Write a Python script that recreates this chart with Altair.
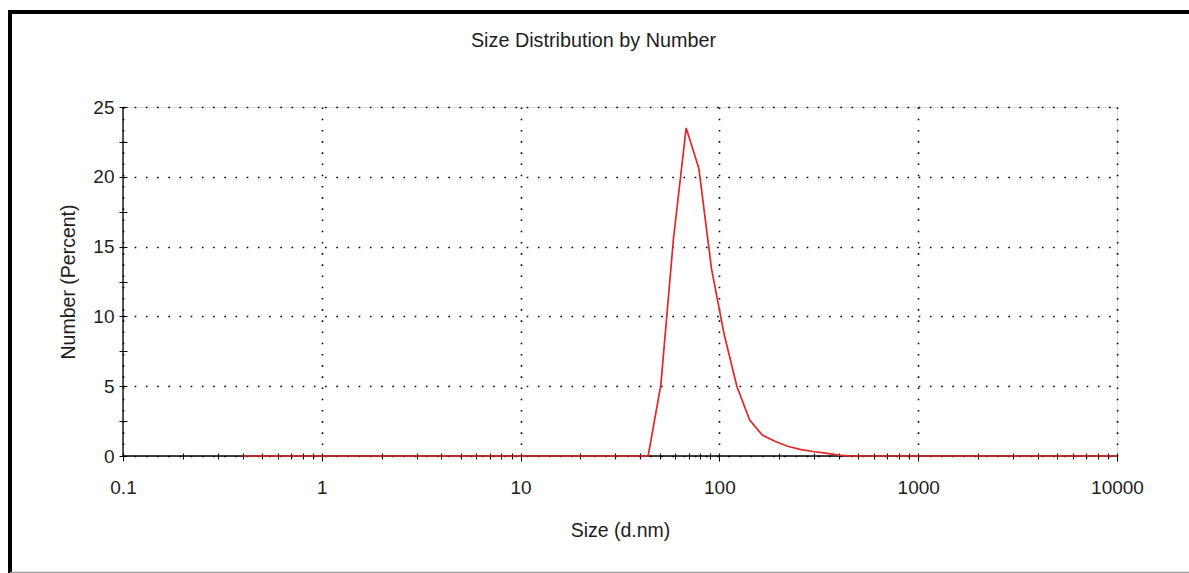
import altair as alt
import pandas as pd

# Size classes (d.nm) and number distribution (%)
sizes = [0.4, 0.4632, 0.5365, 0.6213, 0.7195, 0.8332, 0.9649, 1.117, 1.294, 1.499,
         1.736, 2.010, 2.328, 2.696, 3.122, 3.615, 4.187, 4.849, 5.615, 6.503,
         7.531, 8.721, 10.10, 11.70, 13.54, 15.69, 18.17, 21.04, 24.36, 28.21,
         32.67, 37.84, 43.82, 50.75, 58.77, 68.06, 78.82, 91.28, 105.7, 122.4,
         141.8, 164.2, 190.1, 220.2, 255.0, 295.3, 342.0, 396.1, 458.7, 531.2,
         615.1, 712.4, 825.0, 955.4, 1106, 1281, 1484, 1718, 1990, 2305,
         2669, 3091, 3580, 4145, 4801, 5560, 6439, 7456, 8635, 10000]
numbers = [0, 0, 0, 0, 0, 0, 0, 0, 0, 0,
           0, 0, 0, 0, 0, 0, 0, 0, 0, 0,
           0, 0, 0, 0, 0, 0, 0, 0, 0, 0,
           0, 0, 0, 5.1, 15.6, 23.5, 20.6, 13.4, 8.7, 5.0,
           2.6, 1.5, 1.05, 0.7, 0.48, 0.32, 0.2, 0.06, 0, 0,
           0, 0, 0, 0, 0, 0, 0, 0, 0, 0,
           0, 0, 0, 0, 0, 0, 0, 0, 0, 0]

x_ticks = [0.1, 0.2, 0.3, 0.4, 0.5, 0.6, 0.7, 0.8, 0.9,
           1, 2, 3, 4, 5, 6, 7, 8, 9,
           10, 20, 30, 40, 50, 60, 70, 80, 90,
           100, 200, 300, 400, 500, 600, 700, 800, 900,
           1000, 2000, 3000, 4000, 5000, 6000, 7000, 8000, 9000, 10000]
y_ticks = [0, 2.5, 5, 7.5, 10, 12.5, 15, 17.5, 20, 22.5, 25]

chart_title = "Size Distribution by Number"

df = pd.DataFrame({"size": sizes, "number": numbers})

FONT = "Liberation Sans"
TXT = "#1e1e1e"
decade = "abs(log(datum.value)/LN10 - round(log(datum.value)/LN10)) < 0.01"

x_axis = alt.Axis(
    values=x_ticks,
    labelExpr=f"({decade}) ? format(datum.value, '~g') : ''",
    domain=False,
    offset=-3,
    tickColor="black",
    tickWidth=1,
    tickSize={"condition": {"test": decade, "value": 8}, "value": 6},
    labelPadding=17,
    labelFont=FONT, labelFontSize=19, labelColor=TXT,
    labelFlush=False, labelOverlap=False,
    grid=True, gridColor="black", gridWidth=1.6, gridDash=[1.6, 9.6],
    gridOpacity={"condition": {"test": decade, "value": 1}, "value": 0},
    title="Size (d.nm)", titleFont=FONT, titleFontSize=19.5, titleFontWeight="normal",
    titleColor=TXT, titlePadding=24,
)
y_axis = alt.Axis(
    values=y_ticks,
    labelExpr="datum.value % 5 == 0 ? datum.label : ''",
    domain=False,
    offset=-4,
    tickColor="black",
    tickWidth=1,
    tickSize=8,
    labelPadding=5,
    labelFont=FONT, labelFontSize=19, labelColor=TXT,
    labelFlush=False, labelOverlap=False,
    grid=True, gridColor="black", gridWidth=1.6, gridDash=[1.6, 9.6],
    gridOpacity={"condition": {"test": "datum.value % 5 == 0", "value": 1}, "value": 0},
    title="Number (Percent)", titleFont=FONT, titleFontSize=19.5, titleFontWeight="normal",
    titleColor=TXT, titlePadding=14,
)
x_scale = alt.Scale(type="log", domain=[0.1, 10000], nice=False)
y_scale = alt.Scale(domain=[0, 25], nice=False)

line = alt.Chart(df).mark_line(color="#e3262b", strokeWidth=1.7).encode(
    x=alt.X("size:Q", scale=x_scale, axis=x_axis),
    y=alt.Y("number:Q", scale=y_scale, axis=y_axis),
)

base = alt.Chart(pd.DataFrame({"k": [0]}))
x_dom = base.mark_rule(color="black", strokeWidth=1.3).encode(
    x=alt.X(datum=0.1, type="quantitative", scale=x_scale, axis=x_axis),
    x2=alt.X2(datum=10000),
    y=alt.Y(datum=0, type="quantitative", scale=y_scale, axis=y_axis),
)
y_dom = base.mark_rule(color="black", strokeWidth=1.3).encode(
    x=alt.X(datum=0.1, type="quantitative", scale=x_scale, axis=x_axis),
    y=alt.Y(datum=0, type="quantitative", scale=y_scale, axis=y_axis),
    y2=alt.Y2(datum=25),
)

# outer frame of the report panel
frame_left = base.mark_rule(color="black", strokeWidth=4).encode(
    x=alt.value(-113), y=alt.value(-96), y2=alt.value(466))
frame_top = base.mark_rule(color="black", strokeWidth=4).encode(
    x=alt.value(-115), x2=alt.value(1070), y=alt.value(-95))
frame_bottom = base.mark_rule(color="#9a9a9a", strokeWidth=1.5).encode(
    x=alt.value(-113), x2=alt.value(1070), y=alt.value(465.5))

title_text = base.mark_text(font=FONT, fontSize=19.8, color=TXT, align="center",
                            baseline="middle").encode(
    x=alt.value(470.5), y=alt.value(-66), text=alt.value(chart_title))

chart = alt.layer(frame_left, frame_top, frame_bottom, title_text, x_dom, y_dom, line).properties(
    width=994,
    height=349,
    autosize=alt.AutoSizeParams(type="none"),
    padding={"left": 123, "top": 107, "right": 72, "bottom": 117},
).configure_view(strokeOpacity=0).configure(background="white")

chart.save("out.html", embed_options={"renderer": "svg", "actions": False})
